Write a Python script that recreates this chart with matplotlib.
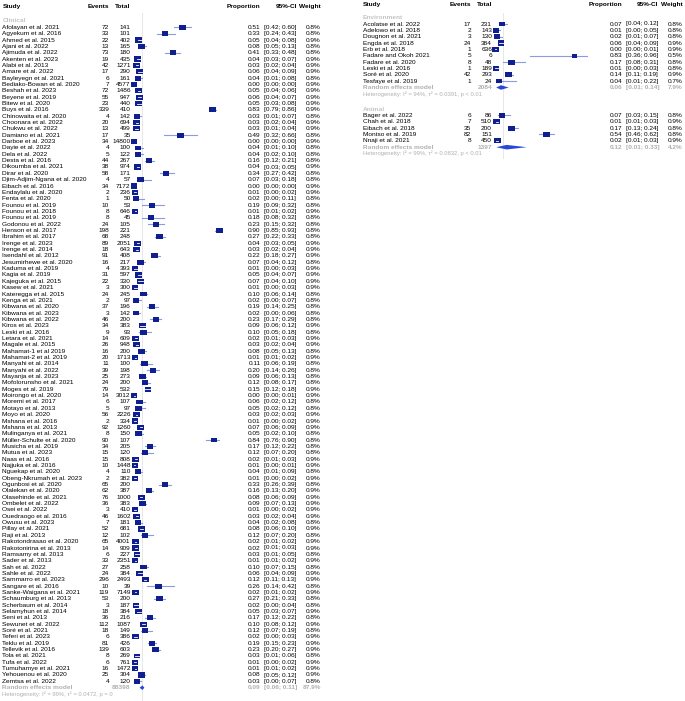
import numpy as np
import matplotlib.pyplot as plt
from matplotlib import transforms
from matplotlib.patches import Rectangle, Polygon

plt.rcParams['font.family'] = ['Liberation Sans', 'DejaVu Sans']

# ---- Clinical ----
clin_study = [
    "Afolayan et al. 2021", "Agyekum et al. 2016", "Ahmed et al. 2015", "Ajani et al. 2022",
    "Ajimuda et al. 2022", "Akenten et al. 2023", "Alabi et al. 2013", "Amare et al. 2022",
    "Bayleyegn et al. 2021", "Bediako-Bowan et al. 2020", "Beshah et al. 2023", "Beyene et al. 2019",
    "Bitew et al. 2020", "Buys et al. 2016", "Chinowaita et al. 2020", "Choonara et al. 2022",
    "Chukwu et al. 2022", "Damiano et al. 2021", "Darboe et al. 2023", "Dayie et al. 2022",
    "Dela et al. 2022", "Desta et al. 2016", "Dikoumba et al. 2021", "Dirar et al. 2020",
    "Djim-Adjim-Ngana et al. 2020", "Eibach et al. 2016", "Endaylalu et al. 2020", "Fenta et al. 2020",
    "Founou et al. 2019", "Founou et al. 2018", "Founou et al. 2019", "Godonou et al. 2022",
    "Henson et al. 2017", "Ibrahim et al. 2017", "Irenge et al. 2023", "Irenge et al. 2014",
    "Isendahl et al. 2012", "Jesumirhewe et al. 2020", "Kaduma et al. 2019", "Kagia et al. 2019",
    "Kajeguka et al. 2015", "Kasew et al. 2021", "Kateregga et al. 2015", "Kenga et al. 2021",
    "Kibwana et al. 2020", "Kibwana et al. 2023", "Kibwana et al. 2022", "Kiros et al. 2023",
    "Leski et al. 2016", "Letara et al. 2021", "Magale et al. 2015", "Mahamat-1 et al 2019",
    "Mahamat-2 et al. 2019", "Manyahi et al. 2014", "Manyahi et al. 2022", "Mayanja et al. 2023",
    "Mofolorunsho et al. 2021", "Moges et al. 2019", "Moirongo et al. 2020", "Moremi et al. 2017",
    "Motayo et al. 2013", "Moyo et al. 2020", "Mshana et al. 2016", "Mshana et al. 2013",
    "Mulinganya et al. 2021", "Müller-Schulte et al. 2020", "Musicha et al. 2019", "Mutua et al. 2023",
    "Naas et al. 2016", "Najjuka et al. 2016", "Nguekap et al. 2020", "Obeng-Nkrumah et al. 2023",
    "Ogunbosi et al. 2020", "Olalekan et al. 2020", "Olasehinde et al. 2021", "Ombelet et al. 2022",
    "Osei et al. 2022", "Ouedraogo et al. 2016", "Owusu et al. 2023", "Pillay et al. 2021",
    "Raji et al. 2013", "Rakotondrasao et al. 2020", "Rakotonirina et al. 2013", "Ramsamy et al. 2013",
    "Sader et al. 2013", "Sah et al. 2022", "Sahle et al. 2022", "Sammarro et al. 2023",
    "Sangare et al. 2016", "Sanke-Waigana et al. 2021", "Schaumburg et al. 2013", "Scherbaum et al. 2014",
    "Selamyhun et al. 2014", "Seni et al. 2013", "Sewunet et al. 2022", "Soré et al. 2021",
    "Teferi et al. 2023", "Teklu et al. 2019", "Tellevik et al. 2016", "Tola et al. 2021",
    "Tufa et al. 2022", "Tumuhamye et al. 2021", "Yehouenou et al. 2020", "Zemtsa et al. 2022",
]
clin_events = [72, 33, 22, 13, 73, 19, 42, 17, 6, 7, 72, 55, 23, 339, 4, 20, 13, 17, 34, 4,
               5, 44, 38, 58, 4, 34, 2, 1, 10, 8, 8, 24, 198, 68, 89, 18, 91, 16, 4, 31,
               22, 3, 24, 2, 37, 3, 46, 34, 9, 14, 26, 16, 20, 11, 39, 25, 24, 79, 14, 6,
               5, 56, 2, 92, 8, 90, 34, 15, 15, 10, 4, 2, 65, 62, 76, 36, 3, 46, 7, 52,
               12, 65, 14, 6, 33, 27, 24, 296, 10, 119, 53, 3, 18, 36, 112, 18, 6, 81, 139, 8,
               6, 16, 25, 4]
clin_total = [141, 101, 402, 165, 180, 435, 1271, 290, 161, 4577, 1486, 947, 440, 410, 142, 694,
              499, 35, 14800, 100, 122, 267, 974, 171, 57, 7172, 236, 50, 53, 646, 45, 105,
              221, 248, 2051, 643, 408, 217, 393, 597, 330, 300, 245, 97, 196, 142, 200, 383,
              93, 609, 948, 200, 1713, 100, 198, 273, 200, 532, 3012, 107, 97, 2226, 334, 1260,
              150, 107, 205, 120, 808, 1448, 110, 382, 200, 387, 1000, 383, 410, 1602, 181, 681,
              102, 4001, 909, 227, 2351, 258, 384, 2493, 39, 7149, 200, 187, 384, 216, 1087, 149,
              386, 426, 603, 269, 761, 1472, 304, 120]
clin_prop = [0.51, 0.33, 0.05, 0.08, 0.41, 0.04, 0.03, 0.06, 0.04, 0.00, 0.05, 0.06, 0.05, 0.83,
             0.03, 0.03, 0.03, 0.49, 0.00, 0.04, 0.04, 0.16, 0.04, 0.34, 0.07, 0.00, 0.01, 0.02,
             0.19, 0.01, 0.18, 0.23, 0.90, 0.27, 0.04, 0.03, 0.22, 0.07, 0.01, 0.05, 0.07, 0.01,
             0.10, 0.02, 0.19, 0.02, 0.23, 0.09, 0.10, 0.02, 0.03, 0.08, 0.01, 0.11, 0.20, 0.09,
             0.12, 0.15, 0.00, 0.06, 0.05, 0.03, 0.01, 0.07, 0.05, 0.84, 0.17, 0.12, 0.02, 0.01,
             0.04, 0.01, 0.33, 0.16, 0.08, 0.09, 0.01, 0.03, 0.04, 0.08, 0.12, 0.02, 0.02, 0.03,
             0.01, 0.10, 0.06, 0.12, 0.26, 0.02, 0.27, 0.02, 0.05, 0.17, 0.10, 0.12, 0.02, 0.19,
             0.23, 0.03, 0.01, 0.01, 0.08, 0.03]
clin_lo = [0.42, 0.24, 0.04, 0.05, 0.33, 0.03, 0.02, 0.04, 0.01, 0.00, 0.04, 0.04, 0.03, 0.79,
           0.01, 0.02, 0.01, 0.32, 0.00, 0.01, 0.02, 0.12, 0.03, 0.27, 0.03, 0.00, 0.00, 0.00,
           0.09, 0.01, 0.08, 0.15, 0.85, 0.22, 0.03, 0.02, 0.18, 0.04, 0.00, 0.04, 0.04, 0.00,
           0.06, 0.00, 0.14, 0.00, 0.17, 0.06, 0.05, 0.01, 0.02, 0.05, 0.01, 0.06, 0.14, 0.06,
           0.08, 0.12, 0.00, 0.02, 0.02, 0.02, 0.00, 0.06, 0.02, 0.76, 0.12, 0.07, 0.01, 0.00,
           0.01, 0.00, 0.26, 0.13, 0.06, 0.07, 0.00, 0.02, 0.02, 0.06, 0.07, 0.01, 0.01, 0.01,
           0.01, 0.07, 0.04, 0.11, 0.14, 0.01, 0.21, 0.00, 0.03, 0.12, 0.08, 0.07, 0.00, 0.15,
           0.20, 0.01, 0.00, 0.01, 0.05, 0.00]
clin_hi = [0.60, 0.43, 0.08, 0.13, 0.48, 0.07, 0.04, 0.09, 0.08, 0.00, 0.06, 0.07, 0.08, 0.86,
           0.07, 0.04, 0.04, 0.66, 0.00, 0.10, 0.10, 0.21, 0.05, 0.42, 0.18, 0.00, 0.02, 0.11,
           0.32, 0.02, 0.32, 0.32, 0.93, 0.33, 0.05, 0.04, 0.27, 0.12, 0.03, 0.07, 0.10, 0.03,
           0.14, 0.07, 0.25, 0.06, 0.29, 0.12, 0.18, 0.03, 0.04, 0.13, 0.02, 0.19, 0.26, 0.13,
           0.17, 0.18, 0.01, 0.12, 0.12, 0.03, 0.02, 0.09, 0.10, 0.90, 0.22, 0.20, 0.03, 0.01,
           0.09, 0.02, 0.39, 0.20, 0.09, 0.13, 0.02, 0.04, 0.08, 0.10, 0.20, 0.02, 0.03, 0.05,
           0.02, 0.15, 0.09, 0.13, 0.42, 0.02, 0.33, 0.04, 0.07, 0.22, 0.12, 0.19, 0.03, 0.23,
           0.27, 0.06, 0.02, 0.02, 0.12, 0.07]
clin_weight = [0.8, 0.8, 0.9, 0.8, 0.8, 0.9, 0.9, 0.9, 0.8, 0.9, 0.9, 0.9, 0.9, 0.9, 0.8, 0.9,
               0.9, 0.8, 0.9, 0.8, 0.8, 0.8, 0.9, 0.8, 0.8, 0.9, 0.9, 0.8, 0.8, 0.9, 0.8, 0.8,
               0.8, 0.8, 0.9, 0.9, 0.9, 0.8, 0.9, 0.9, 0.9, 0.9, 0.8, 0.8, 0.8, 0.8, 0.8, 0.9,
               0.8, 0.9, 0.9, 0.8, 0.9, 0.8, 0.8, 0.8, 0.8, 0.9, 0.9, 0.8, 0.8, 0.9, 0.9, 0.9,
               0.8, 0.8, 0.8, 0.8, 0.9, 0.9, 0.8, 0.9, 0.8, 0.9, 0.9, 0.9, 0.9, 0.9, 0.8, 0.9,
               0.8, 0.9, 0.9, 0.8, 0.9, 0.8, 0.9, 0.9, 0.8, 0.9, 0.8, 0.8, 0.9, 0.8, 0.9, 0.8,
               0.9, 0.9, 0.9, 0.8, 0.9, 0.9, 0.9, 0.8]
clin_pooled = dict(total=88398, est=0.09, lo=0.06, hi=0.11, weight=87.9,
                   het="Heterogeneity: I² = 99%, τ² = 0.0472, p = 0")

# ---- Environment ----
env_study = ["Acolatse et al. 2022", "Adelowo et al. 2018", "Dougnon et al. 2021", "Engda et al. 2018",
             "Erb et al. 2018", "Fadare and Okoh 2021", "Fadare et al. 2020", "Leski et al. 2016",
             "Soré et al. 2020", "Tesfaye et al. 2019"]
env_events = [17, 2, 3, 24, 1, 5, 8, 1, 42, 1]
env_total = [231, 143, 130, 384, 636, 6, 48, 189, 293, 24]
env_prop = [0.07, 0.01, 0.02, 0.06, 0.00, 0.83, 0.17, 0.01, 0.14, 0.04]
env_lo = [0.04, 0.00, 0.01, 0.04, 0.00, 0.36, 0.08, 0.00, 0.11, 0.01]
env_hi = [0.12, 0.05, 0.07, 0.09, 0.01, 0.96, 0.31, 0.03, 0.19, 0.22]
env_weight = [0.8, 0.8, 0.8, 0.9, 0.9, 0.5, 0.8, 0.8, 0.9, 0.7]
env_pooled = dict(total=2084, est=0.06, lo=0.01, hi=0.14, weight=7.9,
                  het="Heterogeneity: I² = 94%, τ² = 0.0391, p < 0.01")

# ---- Animal ----
ani_study = ["Bager et al. 2022", "Chah et al. 2018", "Eibach et al. 2018", "Montso et al. 2019",
             "Nnaji et al. 2021"]
ani_events = [6, 7, 35, 82, 8]
ani_total = [86, 510, 200, 151, 450]
ani_prop = [0.07, 0.01, 0.17, 0.54, 0.02]
ani_lo = [0.03, 0.01, 0.13, 0.46, 0.01]
ani_hi = [0.15, 0.03, 0.24, 0.62, 0.03]
ani_weight = [0.8, 0.9, 0.8, 0.8, 0.9]
ani_pooled = dict(total=1397, est=0.12, lo=0.01, hi=0.33, weight=4.2,
                  het="Heterogeneity: I² = 99%, τ² = 0.0832, p < 0.01")

ref_line = 0.08

W, H = 685, 701
ROW = 6.35      # pixels per row
XSCALE = 95.0   # pixels per unit proportion
FS = 4.65
FS_HET = 4.2
SQ_COL = '#0f1f8f'
CI_COL = '#8c9be0'
DIA_COL = '#2848d8'
GREY = '#b0b0b0'

fig = plt.figure(figsize=(W / 100, H / 100), dpi=100)


def make_panel(left_px, width_px, zero_px, first_row_px):
    ax = fig.add_axes([left_px / W, 0, width_px / W, 1])
    ax.set_xlim((left_px - zero_px) / XSCALE, (left_px + width_px - zero_px) / XSCALE)
    top = -first_row_px / ROW
    ax.set_ylim(top + H / ROW, top)
    ax.axis('off')
    return ax


def header(ax, cols, y):
    tr = transforms.blended_transform_factory(fig.transFigure, ax.transData)
    kw = dict(transform=tr, fontsize=FS, fontweight='bold', va='center')
    ax.text(cols['study'] / W, y, "Study", ha='left', **kw)
    ax.text(cols['events'] / W, y, "Events", ha='right', **kw)
    ax.text(cols['total'] / W, y, "Total", ha='right', **kw)
    ax.text(cols['prop'] / W, y, "Proportion", ha='right', **kw)
    ax.text(cols['ci_head'] / W, y, "95%-CI", ha='right', **kw)
    ax.text(cols['weight'] / W, y, "Weight", ha='right', **kw)


def subgroup(ax, cols, y0, label, study, events, total, prop, lo, hi, weight, pooled):
    tr = transforms.blended_transform_factory(fig.transFigure, ax.transData)
    ax.text(cols['study'] / W, y0 - 1, label, transform=tr, fontsize=FS,
            fontweight='bold', color='#c4c4c4', ha='left', va='center')
    ys = y0 + np.arange(len(study))
    sq_w = 6.5 / XSCALE
    sq_h = 5.0 / ROW
    for y, s, e, n, p, l, h, w in zip(ys, study, events, total, prop, lo, hi, weight):
        kw = dict(transform=tr, fontsize=FS, va='center')
        ax.text(cols['study'] / W, y, s, ha='left', **kw)
        ax.text(cols['events'] / W, y, str(e), ha='right', **kw)
        ax.text(cols['total'] / W, y, str(n), ha='right', **kw)
        ax.text(cols['prop'] / W, y, f"{p:.2f}", ha='right', **kw)
        ax.text(cols['ci'] / W, y, f"[{l:.2f}; {h:.2f}]", ha='left', **kw)
        ax.text(cols['weight'] / W, y, f"{w:.1f}%", ha='right', **kw)
        k = np.sqrt(w / 0.85)
        bw, bh = sq_w * k, sq_h * k
        ax.add_patch(Rectangle((p - bw / 2, y - bh / 2), bw, bh, facecolor=SQ_COL,
                               edgecolor='none', zorder=3, clip_on=False))
        inside = (l >= p - bw / 2) and (h <= p + bw / 2)
        if inside:
            ax.plot([l, h], [y, y], color='white', lw=0.6, zorder=4, clip_on=False)
        else:
            ax.plot([l, h], [y, y], color=CI_COL, lw=0.8, zorder=2, clip_on=False)
    yr = y0 + len(study)
    kw = dict(transform=tr, fontsize=FS, va='center', color=GREY, fontweight='bold')
    ax.text(cols['study'] / W, yr, "Random effects model", ha='left', **kw)
    ax.text(cols['total'] / W, yr, str(pooled['total']), ha='right', **kw)
    ax.text(cols['prop'] / W, yr, f"{pooled['est']:.2f}", ha='right', **kw)
    ax.text(cols['ci'] / W, yr, f"[{pooled['lo']:.2f}; {pooled['hi']:.2f}]", ha='left', **kw)
    ax.text(cols['weight'] / W, yr, f"{pooled['weight']:.1f}%", ha='right', **kw)
    dh = 0.36
    ax.add_patch(Polygon([(pooled['lo'], yr), (pooled['est'], yr - dh),
                          (pooled['hi'], yr), (pooled['est'], yr + dh)],
                         closed=True, facecolor=DIA_COL, edgecolor='none', zorder=3,
                         clip_on=False))
    ax.text(cols['study'] / W, yr + 1, pooled['het'], transform=tr, fontsize=FS_HET,
            color=GREY, ha='left', va='center')


# left panel
left_cols = dict(study=2.5, events=109, total=130.7, prop=260.7, ci=264, ci_head=297, weight=321)
axl = make_panel(0, 340, 133.9, 27.3)
header(axl, left_cols, -3.2)
subgroup(axl, left_cols, 0, "Clinical", clin_study, clin_events, clin_total, clin_prop,
         clin_lo, clin_hi, clin_weight, clin_pooled)
axl.plot([ref_line, ref_line], [-2.25, 106.5], color='#c8c8c8', lw=0.6,
         ls=(0, (1.2, 1.2)), zorder=1, clip_on=False)

# right panel
right_cols = dict(study=363, events=471, total=492, prop=622, ci=626, ci_head=658, weight=682.5)
axr = make_panel(340, 345, 495.3, 24.0)
header(axr, right_cols, -3.0)
subgroup(axr, right_cols, 0, "Environment", env_study, env_events, env_total, env_prop,
         env_lo, env_hi, env_weight, env_pooled)
subgroup(axr, right_cols, 14.4, "Animal", ani_study, ani_events, ani_total, ani_prop,
         ani_lo, ani_hi, ani_weight, ani_pooled)
axr.plot([ref_line, ref_line], [-1.7, 21.1], color='#c8c8c8', lw=0.6,
         ls=(0, (1.2, 1.2)), zorder=1, clip_on=False)

fig.savefig("out.png", dpi=100)
